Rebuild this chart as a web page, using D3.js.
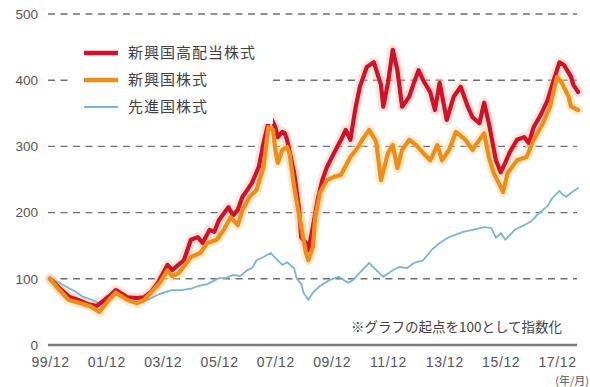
<!DOCTYPE html>
<html>
<head>
<meta charset="utf-8">
<script src="https://cdn.jsdelivr.net/npm/d3@7/dist/d3.min.js"></script>
<style>
  html, body { margin: 0; padding: 0; background: #fff; }
  svg { display: block; }
  text { font-family: "Liberation Sans", Arial, "Noto Sans CJK JP", sans-serif; }
  .jp { font-family: "Noto Sans CJK JP", sans-serif; }
</style>
</head>
<body>
<svg id="chart" width="590" height="387"></svg>
<script>
// Series names (legend order)
const seriesNames = ["新興国高配当株式", "新興国株式", "先進国株式"];

// 新興国高配当株式 (index, start = 100)
const highDivDates = ["1999-12","2000-04","2000-08","2000-12","2001-04","2001-08","2002-01","2002-04","2002-09","2003-01",
  "2003-04","2003-07","2003-10","2004-02","2004-04","2004-09","2004-12","2005-03","2005-05","2005-08",
  "2005-10","2005-12","2006-04","2006-06","2006-08","2006-10","2006-12","2007-02","2007-05","2007-07",
  "2007-09","2007-10","2007-12","2008-01","2008-03","2008-04","2008-05","2008-08","2008-10","2008-11",
  "2009-01","2009-02","2009-04","2009-06","2009-08","2009-10","2010-01","2010-04","2010-06","2010-08",
  "2010-10","2010-12","2011-03","2011-06","2011-09","2011-10","2011-12","2012-02","2012-04","2012-06",
  "2012-09","2012-11","2013-01","2013-03","2013-06","2013-08","2013-10","2014-01","2014-04","2014-07",
  "2014-10","2014-12","2015-03","2015-05","2015-07","2015-10","2015-12","2016-02","2016-04","2016-07",
  "2016-10","2016-12","2017-02","2017-05","2017-08","2017-10","2018-01","2018-03","2018-06","2018-07","2018-09"];
const highDivValues = [100,86,73,68,62,59,73,83,72,71,
  72,80,94,121,113,128,159,163,154,174,
  171,189,208,196,204,224,234,245,269,305,
  335,344,329,314,322,320,310,260,208,163,
  154,143,178,219,249,269,290,310,325,310,
  355,390,420,427,393,360,396,446,415,360,
  375,396,415,400,382,355,396,340,375,390,
  360,344,335,366,335,279,261,276,292,310,
  314,305,329,347,370,393,427,423,405,393,382];

// 新興国株式
const emDates = ["1999-12","2000-04","2000-08","2001-01","2001-05","2001-09","2002-01","2002-04","2002-09","2003-01",
  "2003-04","2003-07","2003-11","2004-02","2004-04","2004-07","2004-12","2005-04","2005-07","2005-11",
  "2006-02","2006-05","2006-08","2006-10","2007-01","2007-04","2007-07","2007-09","2007-11","2007-12",
  "2008-01","2008-03","2008-05","2008-06","2008-08","2008-11","2009-01","2009-02","2009-04","2009-05",
  "2009-07","2009-10","2010-01","2010-04","2010-05","2010-08","2010-11","2011-01","2011-04","2011-07",
  "2011-09","2011-12","2012-02","2012-04","2012-06","2012-09","2012-12","2013-03","2013-06","2013-09",
  "2013-11","2014-02","2014-05","2014-09","2014-12","2015-03","2015-05","2015-07","2015-09","2015-12",
  "2016-01","2016-03","2016-07","2016-11","2017-02","2017-06","2017-09","2017-12","2018-02","2018-05",
  "2018-06","2018-09"];
const emValues = [100,83,68,63,59,50,68,79,68,63,
  68,79,95,113,104,109,133,139,154,159,
  174,193,181,204,224,234,269,329,325,295,
  275,295,299,290,239,178,139,128,148,193,
  230,249,254,257,264,284,298,310,325,307,
  249,290,302,267,295,310,302,290,279,302,
  279,295,322,310,295,310,320,284,260,239,
  231,260,279,284,310,335,360,405,396,375,
  360,355];

// 先進国株式
const dmDates = ["1999-12","2000-04","2000-07","2000-11","2001-02","2001-06","2001-09","2001-12","2002-03","2002-06",
  "2002-09","2002-12","2003-02","2003-06","2003-10","2004-01","2004-04","2004-08","2004-12","2005-03",
  "2005-07","2005-12","2006-03","2006-06","2006-09","2006-12","2007-02","2007-04","2007-07","2007-10",
  "2008-01","2008-03","2008-05","2008-08","2008-09","2008-11","2008-12","2009-02","2009-04","2009-07",
  "2009-11","2010-03","2010-07","2010-09","2011-01","2011-04","2011-07","2011-10","2012-02","2012-05",
  "2012-08","2012-11","2013-03","2013-07","2013-10","2014-02","2014-08","2014-12","2015-05","2015-08",
  "2015-10","2015-12","2016-02","2016-06","2016-10","2017-01","2017-04","2017-08","2017-10","2018-01",
  "2018-02","2018-04","2018-06","2018-09"];
const dmValues = [100,94,88,80,73,68,63,74,79,73,
  68,65,63,69,76,80,83,83,85,89,
  92,101,101,106,104,113,116,128,133,139,
  128,121,125,116,101,92,79,68,79,89,
  98,103,94,98,113,124,113,103,113,118,
  116,124,128,145,154,163,171,174,178,177,
  162,169,159,174,181,187,198,210,222,233,
  228,224,230,237];

// Axis ticks
const yTicks = [0, 100, 200, 300, 400, 500];
const xTickLabels = ["1999-12","2001-12","2003-12","2005-12","2007-12","2009-12","2011-12","2013-12","2015-12","2017-12"];

const parseMonth = d3.timeParse("%Y-%m");
const toPoints = (dates, values) => dates.map((d, i) => ({ date: parseMonth(d), value: values[i] }));

const series = [
  { name: seriesNames[0], color: "#d2102a", width: 4.2, halo: "rgba(255,190,170,0.45)", pts: toPoints(highDivDates, highDivValues) },
  { name: seriesNames[1], color: "#ef8d1b", width: 4.2, halo: "rgba(255,215,150,0.45)", pts: toPoints(emDates, emValues) },
  { name: seriesNames[2], color: "#7db4cf", width: 1.8, halo: null, pts: toPoints(dmDates, dmValues) }
];

const svg = d3.select("#chart");
const left = 48, right = 577;

const x = d3.scaleTime()
  .domain([parseMonth("1999-12"), parseMonth("2017-12")])
  .range([50, 557]);
const y = d3.scaleLinear().domain([0, 500]).range([345, 14]);

// Dashed horizontal grid lines
svg.append("g").selectAll("line")
  .data(yTicks.filter(t => t > 0))
  .join("line")
  .attr("x1", left).attr("x2", right)
  .attr("y1", d => y(d)).attr("y2", d => y(d))
  .attr("stroke", "#6f6f6f")
  .attr("stroke-width", 1.4)
  .attr("stroke-dasharray", "7,5.5");

// Y axis labels
const yAxis = d3.axisLeft(y).tickValues(yTicks).tickSize(0).tickPadding(0);
const gy = svg.append("g").attr("transform", "translate(38,0)").call(yAxis);
gy.select(".domain").remove();
gy.selectAll("text")
  .attr("fill", "#555")
  .attr("font-size", 13.5)
  .attr("font-family", "'Liberation Sans', Arial, sans-serif");

// Baseline
svg.append("line")
  .attr("x1", left).attr("x2", right)
  .attr("y1", y(0)).attr("y2", y(0))
  .attr("stroke", "#7a7a7a").attr("stroke-width", 2.4);

// X axis labels
const xAxis = d3.axisBottom(x)
  .tickValues(xTickLabels.map(parseMonth))
  .tickFormat(d3.timeFormat("%y/%m"))
  .tickSize(0).tickPadding(0);
const gx = svg.append("g").attr("transform", "translate(0,357)").call(xAxis);
gx.select(".domain").remove();
gx.selectAll("text")
  .attr("fill", "#555")
  .attr("font-size", 14)
  .attr("letter-spacing", "0.6px")
  .attr("font-family", "'Liberation Sans', Arial, sans-serif");

svg.append("text")
  .attr("class", "jp")
  .attr("x", 589).attr("y", 385)
  .attr("text-anchor", "end")
  .attr("font-size", 11)
  .attr("fill", "#555")
  .text("(年/月)");

// Lines
const line = d3.line().x(d => x(d.date)).y(d => y(d.value)).curve(d3.curveLinear);
const order = [2, 0, 1];
order.forEach(i => {
  const s = series[i];
  if (s.halo) {
    svg.append("path").datum(s.pts)
      .attr("d", line).attr("fill", "none")
      .attr("stroke", s.halo).attr("stroke-width", s.width + 6)
      .attr("stroke-linejoin", "round").attr("stroke-linecap", "round");
  }
});
order.forEach(i => {
  const s = series[i];
  svg.append("path").datum(s.pts)
    .attr("d", line).attr("fill", "none")
    .attr("stroke", s.color).attr("stroke-width", s.width)
    .attr("stroke-linejoin", "round").attr("stroke-linecap", "round");
});

// Legend
const legend = svg.append("g");
legend.append("rect")
  .attr("x", 68).attr("y", 36).attr("width", 205).attr("height", 88)
  .attr("fill", "#fff");
const legendRows = [53, 80, 107];
series.forEach((s, i) => {
  legend.append("line")
    .attr("x1", 84).attr("x2", 118)
    .attr("y1", legendRows[i]).attr("y2", legendRows[i])
    .attr("stroke", s.color).attr("stroke-width", i === 2 ? 1.8 : 4.5);
  legend.append("text")
    .attr("class", "jp")
    .attr("x", 128).attr("y", legendRows[i])
    .attr("dy", "0.36em")
    .attr("font-size", 15)
    .attr("letter-spacing", "1px")
    .attr("fill", "#3f3f3f")
    .text(s.name);
});

// Footnote
svg.append("text")
  .attr("class", "jp")
  .attr("x", 562).attr("y", 327)
  .attr("dy", "0.36em")
  .attr("text-anchor", "end")
  .attr("font-size", 13.5)
  .attr("fill", "#3f3f3f")
  .text("※グラフの起点を100として指数化");
</script>
</body>
</html>
